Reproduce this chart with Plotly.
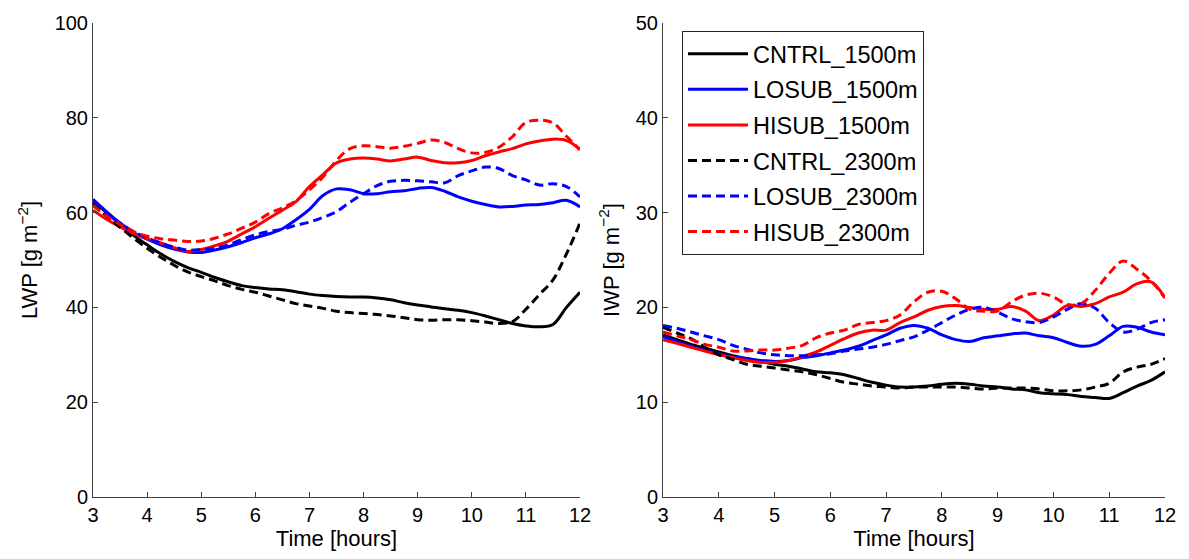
import plotly.graph_objects as go

hours = [3 + 0.25 * i for i in range(37)]

# LWP [g m^-2]
lwp_cntrl_1500 = [62.6, 60.0, 57.6, 55.2, 53.2, 51.3, 49.7, 48.4, 47.4, 46.3, 45.4, 44.6, 44.2,
                  43.9, 43.7, 43.3, 42.8, 42.5, 42.3, 42.2, 42.2, 42.0, 41.6, 41.0, 40.5, 40.1,
                  39.7, 39.4, 38.9, 38.2, 37.4, 36.6, 36.1, 35.9, 36.4, 40.0, 43.2]
lwp_losub_1500 = [62.8, 60.2, 57.8, 55.8, 54.4, 53.2, 52.3, 51.7, 51.6, 52.1, 52.8, 53.7, 54.7,
                  55.5, 56.6, 58.5, 60.7, 63.6, 65.0, 64.8, 64.0, 64.0, 64.4, 64.6, 65.1, 65.3,
                  64.5, 63.3, 62.4, 61.7, 61.2, 61.3, 61.6, 61.7, 62.1, 62.6, 61.2]
lwp_hisub_1500 = [60.5, 58.6, 57.0, 55.6, 54.5, 53.6, 52.6, 51.8, 52.2, 53.0, 54.0, 55.5, 57.0,
                  58.8, 60.5, 62.3, 65.5, 68.0, 70.5, 71.3, 71.5, 71.3, 70.9, 71.3, 71.7, 71.0,
                  70.5, 70.5, 71.0, 72.0, 72.8, 73.5, 74.5, 75.1, 75.5, 75.2, 73.4]
lwp_cntrl_2300 = [62.0, 59.3, 56.9, 54.6, 52.5, 50.6, 48.9, 47.5, 46.5, 45.6, 44.6, 43.8, 43.2,
                  42.4, 41.6, 40.8, 40.3, 39.8, 39.2, 38.9, 38.7, 38.5, 38.2, 37.8, 37.4, 37.3,
                  37.4, 37.4, 37.2, 36.9, 36.6, 37.0, 39.6, 42.7, 45.8, 51.3, 57.8]
lwp_losub_2300 = [62.5, 60.0, 57.8, 56.0, 54.7, 53.6, 52.7, 52.1, 52.2, 52.5, 53.2, 54.3, 55.3,
                  56.0, 56.5, 57.3, 58.0, 59.0, 60.2, 62.2, 64.0, 65.7, 66.6, 66.8, 66.7, 66.5,
                  66.3, 67.8, 68.8, 69.6, 69.3, 67.8, 66.9, 65.8, 66.1, 65.5, 63.3]
lwp_hisub_2300 = [61.5, 59.3, 57.5, 56.0, 55.0, 54.5, 54.2, 53.9, 54.0, 54.6, 55.5, 56.7, 58.0,
                  59.8, 61.0, 62.5, 64.8, 67.5, 71.0, 73.5, 74.1, 73.9, 73.6, 74.0, 74.6, 75.3,
                  74.8, 73.5, 72.6, 72.7, 73.8, 76.0, 79.0, 79.5, 78.9, 76.1, 73.2]

# IWP [g m^-2]
iwp_cntrl_1500 = [17.1, 16.6, 16.1, 15.7, 15.3, 14.9, 14.6, 14.3, 14.0, 13.8, 13.5, 13.2, 13.1,
                  12.9, 12.5, 12.1, 11.8, 11.6, 11.6, 11.7, 11.9, 12.0, 11.9, 11.7, 11.6, 11.4,
                  11.3, 11.0, 10.9, 10.8, 10.6, 10.5, 10.4, 11.0, 11.7, 12.3, 13.2]
iwp_losub_1500 = [16.9, 16.4, 15.9, 15.5, 15.1, 14.8, 14.6, 14.4, 14.3, 14.4, 14.7, 14.9, 15.2,
                  15.5, 15.9, 16.5, 17.1, 17.8, 18.1, 17.8, 17.1, 16.6, 16.4, 16.8, 17.0, 17.2,
                  17.3, 17.0, 16.8, 16.3, 15.9, 16.1, 17.0, 18.0, 17.9, 17.4, 17.1]
iwp_hisub_1500 = [16.6, 16.2, 15.8, 15.4, 15.0, 14.7, 14.4, 14.2, 14.2, 14.4, 14.8, 15.3, 16.0,
                  16.7, 17.3, 17.6, 17.6, 18.4, 19.0, 19.7, 20.1, 20.2, 20.0, 19.8, 19.8, 20.1,
                  19.6, 18.6, 19.2, 20.2, 20.1, 20.4, 21.1, 21.6, 22.5, 22.7, 21.0]
iwp_cntrl_2300 = [17.9, 17.3, 16.7, 15.8, 15.0, 14.5, 14.0, 13.8, 13.6, 13.4, 13.2, 12.9, 12.5,
                  12.1, 11.9, 11.7, 11.6, 11.5, 11.6, 11.6, 11.6, 11.6, 11.5, 11.4, 11.5, 11.5,
                  11.5, 11.4, 11.2, 11.2, 11.3, 11.6, 12.0, 13.2, 13.7, 14.0, 14.6]
iwp_losub_2300 = [18.1, 17.8, 17.4, 17.0, 16.6, 16.0, 15.6, 15.2, 15.0, 14.9, 14.9, 15.0, 15.1,
                  15.4, 15.6, 15.8, 16.1, 16.5, 16.9, 17.6, 18.4, 19.2, 19.8, 20.0, 19.5, 18.8,
                  18.5, 18.4, 19.0, 19.8, 20.4, 19.9, 18.4, 17.4, 17.7, 18.4, 18.7]
iwp_hisub_2300 = [17.4, 17.0, 16.6, 16.1, 15.8, 15.4, 15.4, 15.5, 15.5, 15.7, 16.0, 16.8, 17.3,
                  17.6, 18.2, 18.4, 18.6, 19.2, 20.6, 21.6, 21.7, 20.9, 19.8, 19.6, 19.6, 20.6,
                  21.3, 21.5, 21.1, 20.3, 20.4, 21.8, 23.6, 24.9, 24.0, 22.8, 21.0]

names = ["CNTRL_1500m", "LOSUB_1500m", "HISUB_1500m", "CNTRL_2300m", "LOSUB_2300m", "HISUB_2300m"]
colors = ["#000000", "#0000ff", "#ff0000", "#000000", "#0000ff", "#ff0000"]
dashes = ["solid", "solid", "solid", "9px,5px", "9px,5px", "9px,5px"]
lwp = [lwp_cntrl_1500, lwp_losub_1500, lwp_hisub_1500, lwp_cntrl_2300, lwp_losub_2300, lwp_hisub_2300]
iwp = [iwp_cntrl_1500, iwp_losub_1500, iwp_hisub_1500, iwp_cntrl_2300, iwp_losub_2300, iwp_hisub_2300]

FONT = "Liberation Sans, Arial, Helvetica, sans-serif"
W, H = 1173, 543   # page body has an 8px margin
OFF = 8

def fx(px):
    return (px - OFF) / W

def fy(py):
    return 1 - (py - OFF) / H

fig = go.Figure()
for i in range(6):
    fig.add_trace(go.Scatter(x=hours, y=lwp[i], mode="lines", name=names[i], showlegend=False,
                             line=dict(color=colors[i], width=3, dash=dashes[i], shape="spline"),
                             xaxis="x", yaxis="y"))
for i in range(6):
    fig.add_trace(go.Scatter(x=hours, y=iwp[i], mode="lines", name=names[i], legendgroup=names[i],
                             line=dict(color=colors[i], width=3, dash=dashes[i], shape="spline"),
                             xaxis="x2", yaxis="y2"))

axcol = "#404040"
common = dict(showline=True, linecolor=axcol, linewidth=1, ticks="inside", ticklen=5,
              tickcolor=axcol, showgrid=False, zeroline=False, mirror=False, automargin=False,
              tickfont=dict(size=20, color="#000000", family=FONT))
xt = dict(text="Time [hours]", font=dict(size=22, color="#000000", family=FONT), standoff=0)
ytf = dict(size=22, color="#000000", family=FONT)

fig.update_layout(
    width=W, height=H,
    margin=dict(l=0, r=0, t=0, b=0),
    paper_bgcolor="white", plot_bgcolor="white",
    font=dict(family=FONT, color="#000000"),
    xaxis=dict(domain=[fx(93), fx(580)], range=[3, 12], dtick=1, anchor="y", title=xt, **common),
    yaxis=dict(domain=[fy(497), fy(23)], range=[0, 100], dtick=20, anchor="x",
               title=dict(text="LWP [g m<sup>\u22122</sup>]", font=ytf, standoff=10),
               **common),
    xaxis2=dict(domain=[fx(663), fx(1165)], range=[3, 12], dtick=1, anchor="y2", title=xt, **common),
    yaxis2=dict(domain=[fy(497), fy(23)], range=[0, 50], dtick=10, anchor="x2",
                title=dict(text="IWP [g m<sup>\u22122</sup>]", font=ytf, standoff=10),
                **common),
    legend=dict(x=fx(682), y=fy(31), xanchor="left", yanchor="top",
                bordercolor="#262626", borderwidth=1, bgcolor="white",
                font=dict(size=23.5, family=FONT, color="#000000"),
                tracegroupgap=2, itemwidth=60),
)

fig.write_html("out.html")
